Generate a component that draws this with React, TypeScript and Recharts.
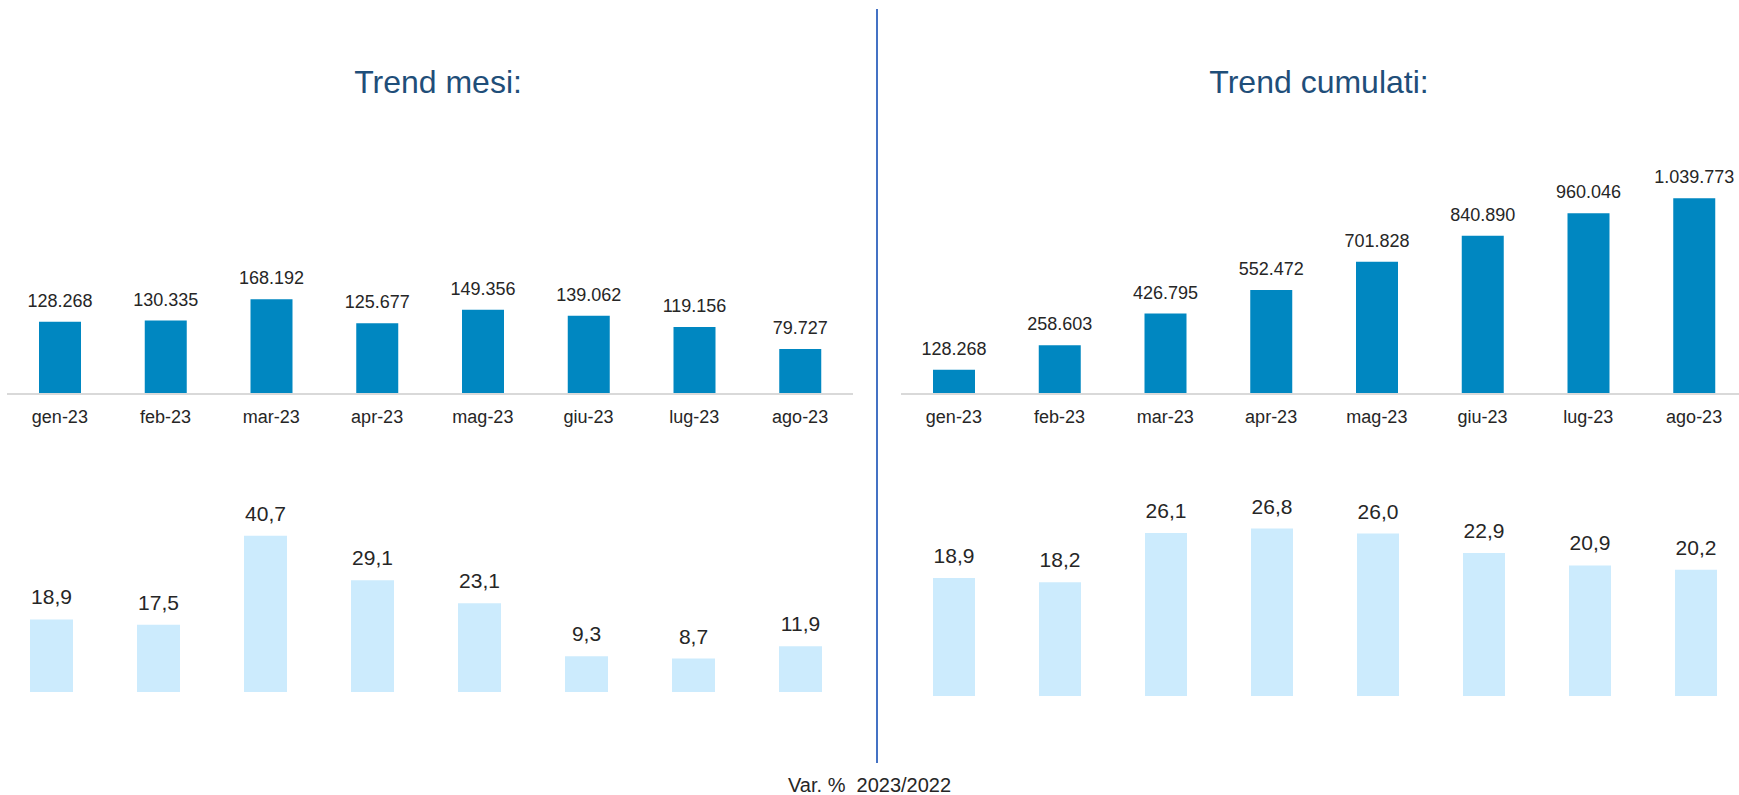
import React from 'react';
import { BarChart, Bar, XAxis, YAxis, LabelList } from 'recharts';

// mesi e valori
const months = ['gen-23', 'feb-23', 'mar-23', 'apr-23', 'mag-23', 'giu-23', 'lug-23', 'ago-23'];
const monthlyValues = [128268, 130335, 168192, 125677, 149356, 139062, 119156, 79727];
const cumulativeValues = [128268, 258603, 426795, 552472, 701828, 840890, 960046, 1039773];
const monthlyVar = [18.9, 17.5, 40.7, 29.1, 23.1, 9.3, 8.7, 11.9];
const cumulativeVar = [18.9, 18.2, 26.1, 26.8, 26.0, 22.9, 20.9, 20.2];

const FONT = '"Liberation Sans", Arial, sans-serif';
const DARK = '#0087C1';
const LIGHT = '#CCEBFD';
const TEXT = '#262626';
const TITLE = '#1F4E79';

const toRows = (values: number[]) => months.map((m, i) => ({ month: m, value: values[i] }));

// 128268 -> "128.268"
const formatThousands = (v: any) =>
  String(Math.round(Number(v))).replace(/\B(?=(\d{3})+(?!\d))/g, '.');

// 18.9 -> "18,9"
const formatPct = (v: any) => Number(v).toFixed(1).replace('.', ',');

interface PanelProps {
  values: number[];
  left: number;
  top: number;
  width: number;
  height: number;
  margin: { top: number; right: number; bottom: number; left: number };
  domainMax: number;
  color: string;
  barSize: number;
  showAxis: boolean;
  labelSize: number;
  formatter: (v: any) => string;
}

const Panel: React.FC<PanelProps> = ({
  values,
  left,
  top,
  width,
  height,
  margin,
  domainMax,
  color,
  barSize,
  showAxis,
  labelSize,
  formatter,
}) => (
  <div style={{ position: 'absolute', left, top, width, height }}>
    <BarChart width={width} height={height} data={toRows(values)} margin={margin}>
      <XAxis
        dataKey="month"
        hide={!showAxis}
        height={46}
        axisLine={{ stroke: '#D9D9D9', strokeWidth: 2 }}
        tickLine={false}
        tickSize={0}
        tickMargin={16}
        interval={0}
        tick={{ fill: TEXT, fontSize: 18, fontFamily: FONT }}
      />
      <YAxis hide domain={[0, domainMax]} />
      <Bar dataKey="value" fill={color} barSize={barSize} isAnimationActive={false}>
        <LabelList
          dataKey="value"
          position="top"
          offset={15}
          formatter={formatter}
          style={{ fill: TEXT, fontSize: labelSize, fontFamily: FONT }}
        />
      </Bar>
    </BarChart>
  </div>
);

const App: React.FC = () => {
  return (
    <div
      style={{
        position: 'absolute',
        left: 0,
        top: 0,
        width: 1739,
        height: 795,
        overflow: 'hidden',
        background: '#ffffff',
        fontFamily: FONT,
      }}
    >
      {/* Titoli */}
      <div
        style={{
          position: 'absolute',
          left: 438 - 300,
          top: 66,
          width: 600,
          textAlign: 'center',
          fontSize: 32,
          lineHeight: 1,
          color: TITLE,
        }}
      >
        Trend mesi:
      </div>
      <div
        style={{
          position: 'absolute',
          left: 1319 - 300,
          top: 66,
          width: 600,
          textAlign: 'center',
          fontSize: 32,
          lineHeight: 1,
          color: TITLE,
        }}
      >
        Trend cumulati:
      </div>

      {/* Valori mensili */}
      <Panel
        values={monthlyValues}
        left={0}
        top={200}
        width={870}
        height={240}
        margin={{ top: 25, right: 17, bottom: 0, left: 7 }}
        domainMax={300000}
        color={DARK}
        barSize={42}
        showAxis
        labelSize={18}
        formatter={formatThousands}
      />

      {/* Valori cumulati */}
      <Panel
        values={cumulativeValues}
        left={880}
        top={140}
        width={870}
        height={300}
        margin={{ top: 28, right: 3, bottom: 0, left: 21 }}
        domainMax={1200000}
        color={DARK}
        barSize={42}
        showAxis
        labelSize={18}
        formatter={formatThousands}
      />

      {/* Var. % mensile */}
      <Panel
        values={monthlyVar}
        left={-10}
        top={460}
        width={880}
        height={232}
        margin={{ top: 40, right: 16, bottom: 0, left: 8 }}
        domainMax={50}
        color={LIGHT}
        barSize={43}
        showAxis={false}
        labelSize={21}
        formatter={formatPct}
      />

      {/* Var. % cumulata */}
      <Panel
        values={cumulativeVar}
        left={880}
        top={420}
        width={870}
        height={276}
        margin={{ top: 26, right: 1, bottom: 0, left: 21 }}
        domainMax={40}
        color={LIGHT}
        barSize={42}
        showAxis={false}
        labelSize={21}
        formatter={formatPct}
      />

      {/* Separatore verticale */}
      <div
        style={{
          position: 'absolute',
          left: 876,
          top: 9,
          width: 1.5,
          height: 754,
          background: '#4472C4',
        }}
      />

      <div
        style={{
          position: 'absolute',
          left: 788,
          top: 775,
          fontSize: 20,
          lineHeight: 1,
          color: TEXT,
          whiteSpace: 'pre',
        }}
      >
        {'Var. %  2023/2022'}
      </div>
    </div>
  );
};

export default App;
